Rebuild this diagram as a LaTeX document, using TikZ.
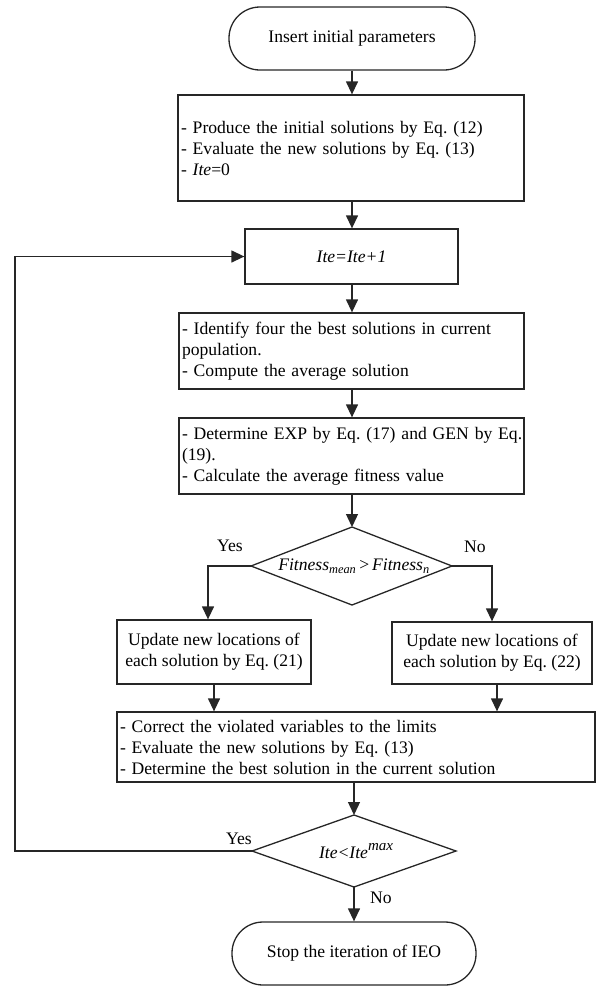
\documentclass[tikz,border=0pt]{standalone}
\usepackage{fontspec}
\setmainfont{Liberation Serif}
\usetikzlibrary{shapes.geometric,arrows.meta}
\begin{document}
\begin{tikzpicture}[x=1pt,y=-1pt,
  every node/.style={font=\fontsize{17.6}{21}\selectfont\frenchspacing},
  line/.style={line width=1.3pt,draw=black!85},
  arr/.style={line, -{Triangle[length=13pt,width=12pt]}},
  termbox/.style={line, rounded corners=31pt, inner sep=0pt, align=center},
  procbox/.style={line, inner sep=3pt, align=left},
  cenbox/.style={line, inner sep=2pt, align=center},
  lbl/.style={inner sep=0pt}
]
\useasboundingbox (0,0) rectangle (599,986);
\node[termbox, minimum width=246pt, minimum height=63pt] (start) at (352,38.5) {Insert initial parameters};
\node[procbox, minimum width=346pt, minimum height=106pt, text width=340pt] (b1) at (351,148)
  {- Produce the initial solutions by Eq. (12)\\- Evaluate the new solutions by Eq. (13)\\- \textit{Ite}=0};
\node[cenbox, minimum width=213pt, minimum height=55pt] (b2) at (351.5,256.5) {\textit{Ite=Ite+1}};
\node[procbox, minimum width=345pt, minimum height=76pt, text width=339pt] (b3) at (351.5,351)
  {- Identify four the best solutions in current\\population.\\- Compute the average solution};
\node[procbox, minimum width=345pt, minimum height=76pt, text width=339pt] (b4) at (351.5,456)
  {\mbox{- Determine EXP by Eq. (17) and GEN by Eq.}\\(19).\\- Calculate the average fitness value};
\draw[line] (251,566) coordinate (d1w) -- (352,527) coordinate (d1n) -- (452,566) coordinate (d1e) -- (352,605) coordinate (d1s) -- cycle;
\node[lbl] (d1) at (354,566) {\textit{Fitness}\textsubscript{\textit{mean}}\,>\,\textit{Fitness}\textsubscript{\textit{n}}};
\node[lbl] (yes1) at (230,546) {Yes};
\node[lbl] (no1) at (475,547) {No};
\node[cenbox, minimum width=194pt, minimum height=64pt] (b5) at (214,652)
  {Update new locations of\\each solution by Eq. (21)};
\node[cenbox, minimum width=200pt, minimum height=62pt] (b6) at (492,653)
  {Update new locations of\\each solution by Eq. (22)};
\node[procbox, minimum width=478pt, minimum height=70pt, text width=472pt] (b7) at (356,747)
  {- Correct the violated variables to the limits\\- Evaluate the new solutions by Eq. (13)\\- Determine the best solution in the current solution};
\draw[line] (252,851) coordinate (d2w) -- (354,815) coordinate (d2n) -- (456,851) coordinate (d2e) -- (354,887) coordinate (d2s) -- cycle;
\node[lbl] (d2) at (356,851) {\textit{Ite<Ite}\raisebox{8pt}{\fontsize{15}{15}\selectfont\textit{max}}};
\node[lbl] (yes2) at (239,839) {Yes};
\node[lbl] (no2) at (381,898) {No};
\node[termbox, minimum width=244pt, minimum height=63pt] (stop) at (354,953.5) {Stop the iteration of IEO};
\coordinate (loopbl) at (15,851);
\coordinate (looptl) at (15,256.5);
\coordinate (c5) at (208,566);
\coordinate (c6) at (492,566);
% connectors
\draw[arr] (start.south -| d1n) -- (b1.north -| d1n);
\draw[arr] (b1.south -| d1n) -- (b2.north -| d1n);
\draw[arr] (b2.south -| d1n) -- (b3.north -| d1n);
\draw[arr] (b3.south -| d1n) -- (b4.north -| d1n);
\draw[arr] (b4.south -| d1n) -- (d1n);
\draw[arr] (d1w) -- (c5) -- (c5 |- b5.north);
\draw[arr] (d1e) -- (c6) -- (c6 |- b6.north);
\draw[arr] (b5.south) -- (b5.south |- b7.north);
\draw[arr] ([xshift=5pt]b6.south) -- ([xshift=5pt]b6.south |- b7.north);
\draw[arr] (b7.south -| d2n) -- (d2n);
\draw[arr] (d2w) -- (loopbl) -- (looptl) -- (b2.west);
\draw[arr] (d2s) -- (stop.north -| d2s);
\end{tikzpicture}
\end{document}
